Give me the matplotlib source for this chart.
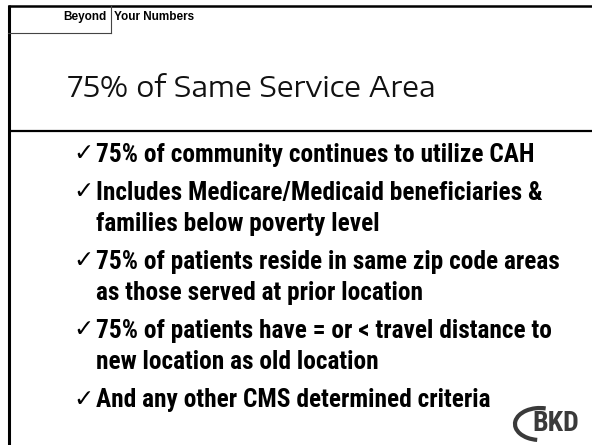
import matplotlib.pyplot as plt
from matplotlib.patches import Arc

# slide content
header_left = 'Beyond'
header_right = 'Your Numbers'
title = '75% of Same Service Area'
bullets = [
    ['75% of community continues to utilize CAH'],
    ['Includes Medicare/Medicaid beneficiaries &', 'families below poverty level'],
    ['75% of patients reside in same zip code areas', 'as those served at prior location'],
    ['75% of patients have = or < travel distance to', 'new location as old location'],
    ['And any other CMS determined criteria'],
]
logo = 'BKD'

W, H = 592, 445
fig = plt.figure(figsize=(W / 100, H / 100), dpi=100)
ax = fig.add_axes([0, 0, 1, 1])
ax.set_xlim(0, W)
ax.set_ylim(H, 0)
ax.axis('off')

# frame lines
ax.plot([8.5, 8.5], [5, H], color='black', lw=2.2, solid_capstyle='butt')
ax.plot([8, W], [6, 6], color='black', lw=1.8, solid_capstyle='butt')
ax.plot([8, W], [130.5, 130.5], color='black', lw=1.6, solid_capstyle='butt')
# small header box
ax.plot([111, 111], [6, 33], color='#444444', lw=0.8)
ax.plot([8, 111], [33, 33], color='#444444', lw=0.8)

ax.text(107, 20, header_left, ha='right', va='baseline', fontsize=8.5,
        fontweight='bold', family='Liberation Sans')
ax.text(114, 20, header_right, ha='left', va='baseline', fontsize=8.5,
        fontweight='bold', family='Liberation Sans')

ax.text(68, 97, title, ha='left', va='baseline', fontsize=20.5,
        family='Encode Sans Expanded', color='#111111')

# bullets
y = 153.0
wrap_step = 31.3
bullet_step = 37.8
for item in bullets:
    ax.text(94, y + 7.5, '\u2713', ha='right', va='baseline', fontsize=17.5,
            family='DejaVu Sans', color='black')
    for i, line in enumerate(item):
        ax.text(96, y + 9 + i * wrap_step, line, ha='left', va='baseline',
                fontsize=18.3, family='Roboto Condensed', fontweight='bold',
                color='black')
    y += (len(item) - 1) * wrap_step + bullet_step

# logo
ax.text(579, 431, logo, ha='right', va='baseline', fontsize=20,
        family='Roboto Condensed', fontweight='bold', color='#3a3a3a')
ax.add_patch(Arc((540, 424), 50, 32, theta1=100, theta2=290, color='#3a3a3a', lw=3))

fig.savefig('out.png', dpi=100)
